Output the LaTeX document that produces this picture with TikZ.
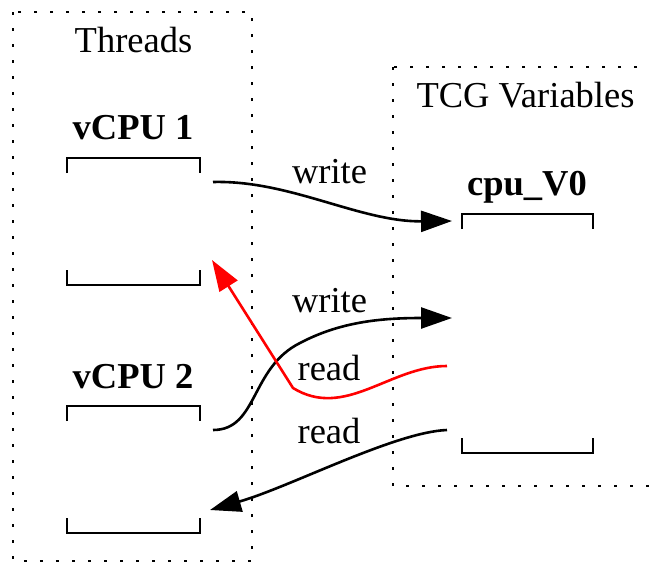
\documentclass[tikz,border=0pt]{standalone}
\usepackage{fontspec}
\setmainfont{Liberation Serif}
\usetikzlibrary{arrows.meta}
\begin{document}
\begin{tikzpicture}[x=1pt,y=-1pt,
  every node/.style={inner sep=0pt,anchor=base,font=\fontsize{36.5}{40}\selectfont},
  hdr/.style={font=\fontsize{36.5}{40}\selectfont\bfseries},
  groupbox/.style={line width=2.6pt,dash pattern=on 2.6pt off 13.4pt},
  bracket/.style={line width=2.6pt},
  conn/.style={line width=2.6pt,-{Triangle[length=31pt,width=21pt]}},
  lbl/.style={}]
\clip (0,0) rectangle (649,563);
\useasboundingbox (0,0) rectangle (649,563);

% dotted group frames
\draw[groupbox] (13,12) rectangle (252,561);
\draw[groupbox] (393,67) rectangle (720,486);

% group titles
\node (thr) at (133.5,52) {Threads};
\node (tcg) at (525.5,107) {TCG Variables};

% register headings
\node[hdr] (h1) at (133,139) {vCPU 1};
\node[hdr] (h2) at (133,388) {vCPU 2};
\node[hdr] (hv) at (527,195) {cpu\_V0};

% bracket corners of each slot
\draw[bracket] (67,173) -- (67,158) -- (200,158) -- (200,173);
\draw[bracket] (67,270) -- (67,285) -- (200,285) -- (200,270);
\draw[bracket] (67,421) -- (67,406) -- (200,406) -- (200,421);
\draw[bracket] (67,518) -- (67,533) -- (200,533) -- (200,518);
\draw[bracket] (462,229) -- (462,214) -- (593,214) -- (593,229);
\draw[bracket] (462,438) -- (462,453) -- (593,453) -- (593,438);

% connector end points
\coordinate (v1out) at (213,182);
\coordinate (v1in)  at (212,260);
\coordinate (v2out) at (213,430);
\coordinate (v2in)  at (210,510);
\coordinate (vtop)  at (452,221);
\coordinate (vmidw) at (452,318);
\coordinate (vmidr) at (447,366);
\coordinate (vbot)  at (447,430);
\coordinate (bend)  at (293,388);

% accesses
\draw[conn] (v1out) .. controls (290,180) and (360,222) .. (vtop);
\draw[conn] (v2out) .. controls (258,430) and (250,368) .. (300,343)
                    .. controls (340,322) and (380,318) .. (vmidw);
\draw[conn,red] (vmidr) .. controls (390,366) and (345,420) .. (bend) -- (v1in);
\draw[conn] (vbot) .. controls (395,432) and (290,487) .. (v2in);

% access labels
\node[lbl] (w1) at (329.5,183) {write};
\node[lbl] (w2) at (329.5,312) {write};
\node[lbl] (r1) at (329,380) {read};
\node[lbl] (r2) at (329,443) {read};
\end{tikzpicture}
\end{document}
